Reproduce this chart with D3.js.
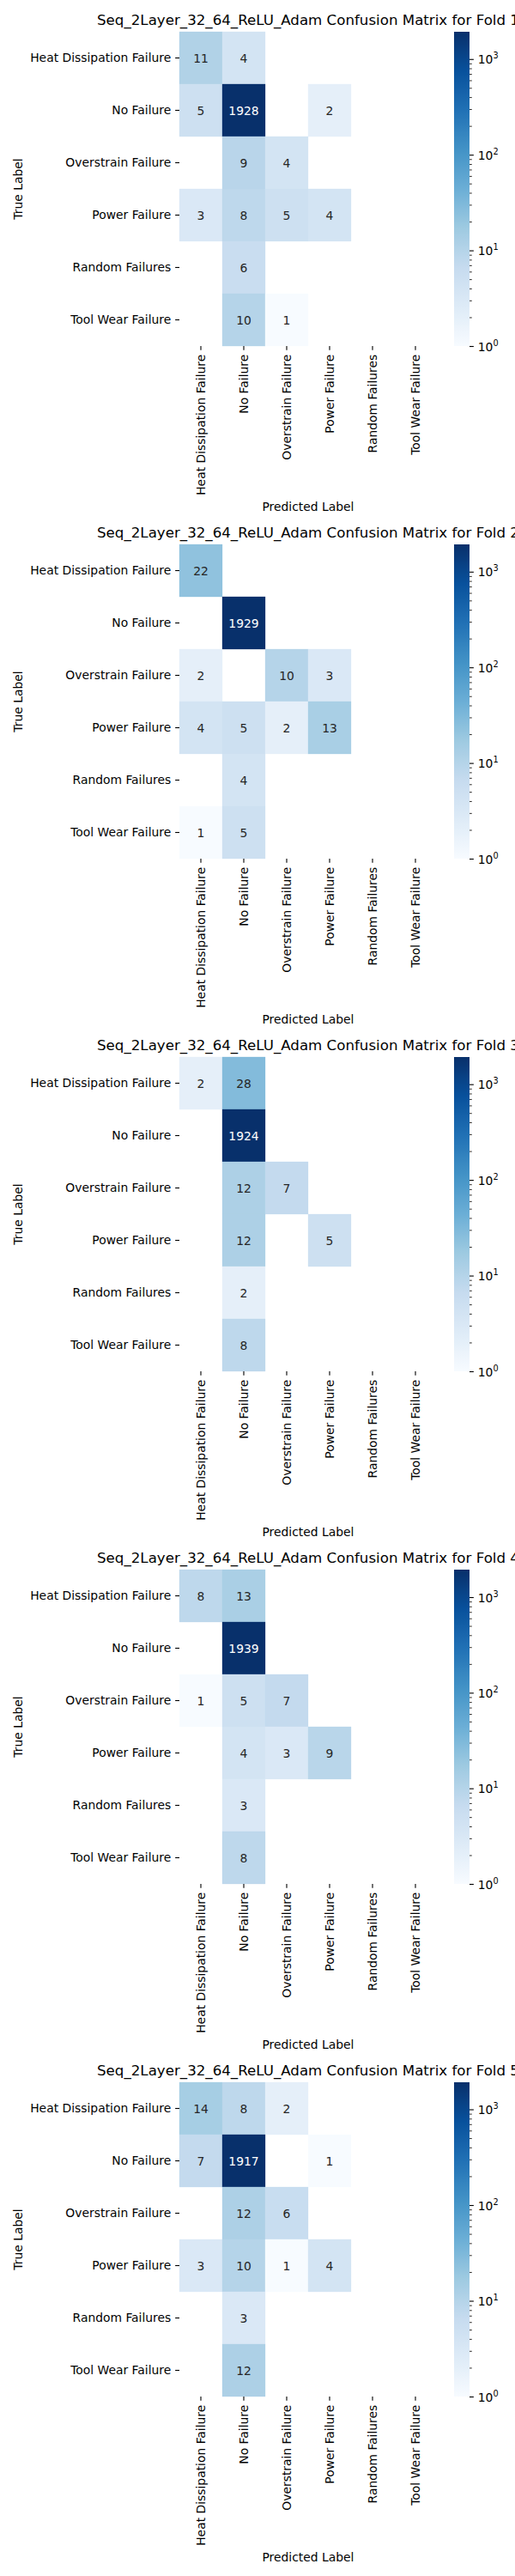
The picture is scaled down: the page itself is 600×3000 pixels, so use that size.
<!DOCTYPE html>
<html>
<head>
<meta charset="utf-8">
<script src="https://cdn.jsdelivr.net/npm/d3@7"></script>
<style>
body{margin:0;background:#fff;}
text{font-family:"DejaVu Sans",sans-serif;}
</style>
</head>
<body>
<div id="chart"></div>
<script>
var modelName = "Seq_2Layer_32_64_ReLU_Adam";
var classes = ["Heat Dissipation Failure","No Failure","Overstrain Failure","Power Failure","Random Failures","Tool Wear Failure"];
// rows = true label, columns = predicted label
var fold1 = [[11,4,0,0,0,0],[5,1928,0,2,0,0],[0,9,4,0,0,0],[3,8,5,4,0,0],[0,6,0,0,0,0],[0,10,1,0,0,0]];
var fold2 = [[22,0,0,0,0,0],[0,1929,0,0,0,0],[2,0,10,3,0,0],[4,5,2,13,0,0],[0,4,0,0,0,0],[1,5,0,0,0,0]];
var fold3 = [[2,28,0,0,0,0],[0,1924,0,0,0,0],[0,12,7,0,0,0],[0,12,0,5,0,0],[0,2,0,0,0,0],[0,8,0,0,0,0]];
var fold4 = [[8,13,0,0,0,0],[0,1939,0,0,0,0],[1,5,7,0,0,0],[0,4,3,9,0,0],[0,3,0,0,0,0],[0,8,0,0,0,0]];
var fold5 = [[14,8,2,0,0,0],[7,1917,0,1,0,0],[0,12,6,0,0,0],[3,10,1,4,0,0],[0,3,0,0,0,0],[0,12,0,0,0,0]];
var foldNames = ["1","2","3","4","5"];
var cbarMajor = [1,10,100,1000];
var cbarExp = ["0","1","2","3"];
var cbarMinor = [2,3,4,5,6,7,8,9,20,30,40,50,60,70,80,90,200,300,400,500,600,700,800,900,2000];
var blues = ["#f7fbff","#deebf7","#c6dbef","#9ecae1","#6baed6","#4292c6","#2171b5","#08519c","#08306b"];

var folds = [fold1,fold2,fold3,fold4,fold5];
var pt = 100/72;
var fs = 10*pt;
var plotLeft = 209, plotW = 300, plotH = 366;
var firstTop = 37, panelStep = 597;
var cbX = 529, cbW = 18;

var cmap = d3.piecewise(d3.interpolateRgb, blues);

function luminance(c){
    var rgb = d3.rgb(c);
    var v = [rgb.r, rgb.g, rgb.b].map(function(u){
        u = u/255;
        return u <= .03928 ? u/12.92 : Math.pow((u+.055)/1.055, 2.4);
    });
    return v[0]*.2126 + v[1]*.7152 + v[2]*.0722;
}

var svg = d3.select("#chart").append("svg")
    .attr("width", 600).attr("height", 3000)
    .style("display","block");

// colorbar gradient (log norm maps evenly, so it is the same for every fold)
var grad = svg.append("defs").append("linearGradient")
    .attr("id","cbgrad").attr("x1",0).attr("y1",1).attr("x2",0).attr("y2",0);
d3.range(0, 1.0001, 1/64).forEach(function(t){
    grad.append("stop").attr("offset", t).attr("stop-color", cmap(t));
});

function drawFold(k){
    var data = folds[k];
    var top = firstTop + panelStep*k;
    var vmax = d3.max(data, function(r){ return d3.max(r); });
    var norm = d3.scaleLog().domain([1, vmax]).range([0,1]);

    var xs = d3.scaleBand().domain(classes).range([0, plotW]);
    var ys = d3.scaleBand().domain(classes).range([0, plotH]);

    var g = svg.append("g").attr("transform","translate("+plotLeft+","+top+")");

    var cells = [];
    data.forEach(function(row,i){
        row.forEach(function(v,j){
            if(v > 0) cells.push({t:classes[i], p:classes[j], v:v});
        });
    });

    g.selectAll("rect.cell").data(cells).enter().append("rect")
        .attr("class","cell")
        .attr("x", function(d){ return xs(d.p); })
        .attr("y", function(d){ return ys(d.t); })
        .attr("width", xs.bandwidth())
        .attr("height", ys.bandwidth())
        .attr("fill", function(d){ return cmap(norm(d.v)); })
        .attr("stroke", function(d){ return cmap(norm(d.v)); })
        .attr("stroke-width", 0.3);

    g.selectAll("text.annot").data(cells).enter().append("text")
        .attr("class","annot")
        .attr("x", function(d){ return xs(d.p) + xs.bandwidth()/2; })
        .attr("y", function(d){ return ys(d.t) + ys.bandwidth()/2; })
        .attr("dy","0.36em")
        .attr("text-anchor","middle")
        .attr("font-size", fs)
        .attr("fill", function(d){ return luminance(cmap(norm(d.v))) > .408 ? "#262626" : "#fff"; })
        .text(function(d){ return d.v; });

    // y axis
    var ya = g.append("g").call(d3.axisLeft(ys).tickSize(3.5*pt).tickPadding(3.5*pt));
    ya.select(".domain").remove();
    ya.attr("font-family", null).attr("font-size", null);
    ya.selectAll("line").attr("stroke","#000").attr("stroke-width",0.8*pt);
    ya.selectAll("text").attr("font-size", fs).attr("fill","#000").attr("dy","0.34em");

    // x axis, labels rotated
    var xa = g.append("g").attr("transform","translate(0,"+plotH+")")
        .call(d3.axisBottom(xs).tickSize(3.5*pt).tickPadding(3.5*pt));
    xa.select(".domain").remove();
    xa.attr("font-family", null).attr("font-size", null);
    xa.selectAll("line").attr("stroke","#000").attr("stroke-width",0.8*pt);
    xa.selectAll("text")
        .attr("font-size", fs).attr("fill","#000")
        .attr("transform","rotate(-90)")
        .attr("text-anchor","end")
        .attr("x", -7*pt).attr("y", 0).attr("dy","0.34em");

    var maxX = d3.max(xa.selectAll("text").nodes(), function(n){ return n.getComputedTextLength(); });
    var maxY = d3.max(ya.selectAll("text").nodes(), function(n){ return n.getComputedTextLength(); });

    g.append("text")
        .attr("x", plotW/2)
        .attr("y", plotH + 7*pt + maxX + 4*pt + 0.928*fs)
        .attr("text-anchor","middle").attr("font-size", fs).attr("fill","#000")
        .text("Predicted Label");

    g.append("text")
        .attr("transform","translate("+(-7*pt - maxY - 4*pt - 0.236*fs)+","+(plotH/2)+") rotate(-90)")
        .attr("text-anchor","middle").attr("font-size", fs).attr("fill","#000")
        .text("True Label");

    g.append("text")
        .attr("x", plotW/2).attr("y", -6*pt)
        .attr("text-anchor","middle").attr("font-size", 12*pt).attr("fill","#000")
        .text(modelName + " Confusion Matrix for Fold " + foldNames[k]);

    // colorbar
    var cs = d3.scaleLog().domain([1, vmax]).range([plotH, 0]);
    var cb = svg.append("g").attr("transform","translate("+cbX+","+top+")");
    cb.append("rect").attr("x",0).attr("y",0).attr("width",cbW).attr("height",plotH)
        .attr("fill","url(#cbgrad)");

    var minor = cb.append("g").attr("transform","translate("+cbW+",0)")
        .call(d3.axisRight(cs).tickValues(cbarMinor.filter(function(v){ return v <= vmax; }))
            .tickSize(2*pt).tickFormat(""));
    minor.select(".domain").remove();
    minor.selectAll("line").attr("stroke","#000").attr("stroke-width",0.6*pt);

    var major = cb.append("g").attr("transform","translate("+cbW+",0)")
        .call(d3.axisRight(cs).tickValues(cbarMajor.filter(function(v){ return v <= vmax; }))
            .tickSize(3.5*pt).tickPadding(3.5*pt).tickFormat(""));
    major.select(".domain").remove();
    major.attr("font-family", null).attr("font-size", null);
    major.selectAll("line").attr("stroke","#000").attr("stroke-width",0.8*pt);
    major.selectAll("text").each(function(d){
        var t = d3.select(this).attr("font-size", fs).attr("fill","#000").attr("dy","0.36em").text("10");
        t.append("tspan").attr("font-size", fs*0.7).attr("dy", -0.42*fs)
            .text(cbarExp[cbarMajor.indexOf(d)]);
    });
}

folds.forEach(function(f,k){ drawFold(k); });
</script>
</body>
</html>
